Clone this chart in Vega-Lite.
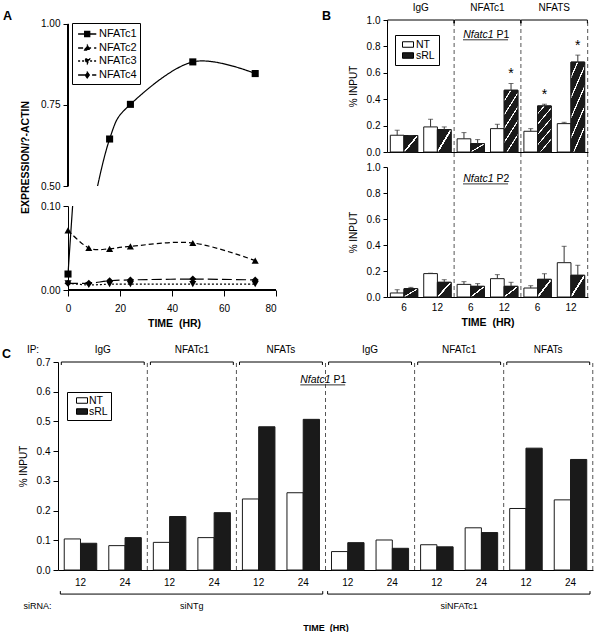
{
  "$schema": "https://vega.github.io/schema/vega-lite/v6.json",
  "padding": {"left": 2, "top": 3, "right": 10, "bottom": 2},
  "config": {
    "font": "Liberation Sans",
    "view": {"stroke": null},
    "axis": {"domainColor": "black", "tickColor": "black", "labelColor": "black", "titleColor": "black", "labelFontSize": 10, "titleFontSize": 10, "titleFontWeight": "normal", "grid": false, "tickSize": 4, "labelPadding": 3, "labelOverlap": false},
    "title": {"fontSize": 12.5, "fontWeight": "bold", "anchor": "start", "frame": "group", "color": "black"}
  },
  "datasets": {
    "a": [
      {"series": "NFATc1", "t": 0, "v": 0.019},
      {"series": "NFATc1", "t": 8, "v": 0.37},
      {"series": "NFATc1", "t": 16, "v": 0.645},
      {"series": "NFATc1", "t": 24, "v": 0.752},
      {"series": "NFATc1", "t": 48, "v": 0.883},
      {"series": "NFATc1", "t": 72, "v": 0.847},
      {"series": "NFATc2", "t": 0, "v": 0.071},
      {"series": "NFATc2", "t": 8, "v": 0.05},
      {"series": "NFATc2", "t": 16, "v": 0.049},
      {"series": "NFATc2", "t": 24, "v": 0.052},
      {"series": "NFATc2", "t": 48, "v": 0.056},
      {"series": "NFATc2", "t": 72, "v": 0.035},
      {"series": "NFATc3", "t": 0, "v": 0.008},
      {"series": "NFATc3", "t": 8, "v": 0.006},
      {"series": "NFATc3", "t": 16, "v": 0.007},
      {"series": "NFATc3", "t": 24, "v": 0.007},
      {"series": "NFATc3", "t": 48, "v": 0.007},
      {"series": "NFATc3", "t": 72, "v": 0.007},
      {"series": "NFATc4", "t": 0, "v": 0.008},
      {"series": "NFATc4", "t": 8, "v": 0.008},
      {"series": "NFATc4", "t": 16, "v": 0.011},
      {"series": "NFATc4", "t": 24, "v": 0.012},
      {"series": "NFATc4", "t": 48, "v": 0.013},
      {"series": "NFATc4", "t": 72, "v": 0.012}
    ],
    "b": [
      {"p": "P1", "cat": "IgG|6", "trt": "NT", "v": 0.127, "hi": 0.165, "sig": ""},
      {"p": "P1", "cat": "IgG|6", "trt": "sRL", "v": 0.125, "hi": 0.125, "sig": ""},
      {"p": "P1", "cat": "IgG|12", "trt": "NT", "v": 0.19, "hi": 0.248, "sig": ""},
      {"p": "P1", "cat": "IgG|12", "trt": "sRL", "v": 0.17, "hi": 0.19, "sig": ""},
      {"p": "P1", "cat": "NFATc1|6", "trt": "NT", "v": 0.1, "hi": 0.147, "sig": ""},
      {"p": "P1", "cat": "NFATc1|6", "trt": "sRL", "v": 0.063, "hi": 0.094, "sig": ""},
      {"p": "P1", "cat": "NFATc1|12", "trt": "NT", "v": 0.177, "hi": 0.21, "sig": ""},
      {"p": "P1", "cat": "NFATc1|12", "trt": "sRL", "v": 0.468, "hi": 0.519, "sig": "*"},
      {"p": "P1", "cat": "NFATS|6", "trt": "NT", "v": 0.157, "hi": 0.177, "sig": ""},
      {"p": "P1", "cat": "NFATS|6", "trt": "sRL", "v": 0.349, "hi": 0.362, "sig": "*"},
      {"p": "P1", "cat": "NFATS|12", "trt": "NT", "v": 0.215, "hi": 0.225, "sig": ""},
      {"p": "P1", "cat": "NFATS|12", "trt": "sRL", "v": 0.681, "hi": 0.734, "sig": "*"},
      {"p": "P2", "cat": "IgG|6", "trt": "NT", "v": 0.031, "hi": 0.056, "sig": ""},
      {"p": "P2", "cat": "IgG|6", "trt": "sRL", "v": 0.064, "hi": 0.074, "sig": ""},
      {"p": "P2", "cat": "IgG|12", "trt": "NT", "v": 0.18, "hi": 0.183, "sig": ""},
      {"p": "P2", "cat": "IgG|12", "trt": "sRL", "v": 0.113, "hi": 0.133, "sig": ""},
      {"p": "P2", "cat": "NFATc1|6", "trt": "NT", "v": 0.097, "hi": 0.118, "sig": ""},
      {"p": "P2", "cat": "NFATc1|6", "trt": "sRL", "v": 0.082, "hi": 0.103, "sig": ""},
      {"p": "P2", "cat": "NFATc1|12", "trt": "NT", "v": 0.141, "hi": 0.172, "sig": ""},
      {"p": "P2", "cat": "NFATc1|12", "trt": "sRL", "v": 0.082, "hi": 0.113, "sig": ""},
      {"p": "P2", "cat": "NFATS|6", "trt": "NT", "v": 0.069, "hi": 0.087, "sig": ""},
      {"p": "P2", "cat": "NFATS|6", "trt": "sRL", "v": 0.136, "hi": 0.179, "sig": ""},
      {"p": "P2", "cat": "NFATS|12", "trt": "NT", "v": 0.264, "hi": 0.39, "sig": ""},
      {"p": "P2", "cat": "NFATS|12", "trt": "sRL", "v": 0.167, "hi": 0.244, "sig": ""}
    ],
    "bg": [
      {"lab": "IgG", "c6": "IgG|6", "c12": "IgG|12"},
      {"lab": "NFATc1", "c6": "NFATc1|6", "c12": "NFATc1|12"},
      {"lab": "NFATS", "c6": "NFATS|6", "c12": "NFATS|12"}
    ],
    "c": [
      {"cat": "siNTg|IgG|12", "trt": "NT", "v": 0.1045},
      {"cat": "siNTg|IgG|12", "trt": "sRL", "v": 0.09},
      {"cat": "siNTg|IgG|24", "trt": "NT", "v": 0.082},
      {"cat": "siNTg|IgG|24", "trt": "sRL", "v": 0.109},
      {"cat": "siNTg|NFATc1|12", "trt": "NT", "v": 0.093},
      {"cat": "siNTg|NFATc1|12", "trt": "sRL", "v": 0.18},
      {"cat": "siNTg|NFATc1|24", "trt": "NT", "v": 0.109},
      {"cat": "siNTg|NFATc1|24", "trt": "sRL", "v": 0.193},
      {"cat": "siNTg|NFATs|12", "trt": "NT", "v": 0.239},
      {"cat": "siNTg|NFATs|12", "trt": "sRL", "v": 0.482},
      {"cat": "siNTg|NFATs|24", "trt": "NT", "v": 0.26},
      {"cat": "siNTg|NFATs|24", "trt": "sRL", "v": 0.507},
      {"cat": "siNFATc1|IgG|12", "trt": "NT", "v": 0.062},
      {"cat": "siNFATc1|IgG|12", "trt": "sRL", "v": 0.092},
      {"cat": "siNFATc1|IgG|24", "trt": "NT", "v": 0.101},
      {"cat": "siNFATc1|IgG|24", "trt": "sRL", "v": 0.073},
      {"cat": "siNFATc1|NFATc1|12", "trt": "NT", "v": 0.085},
      {"cat": "siNFATc1|NFATc1|12", "trt": "sRL", "v": 0.078},
      {"cat": "siNFATc1|NFATc1|24", "trt": "NT", "v": 0.142},
      {"cat": "siNFATc1|NFATc1|24", "trt": "sRL", "v": 0.126},
      {"cat": "siNFATc1|NFATs|12", "trt": "NT", "v": 0.207},
      {"cat": "siNFATc1|NFATs|12", "trt": "sRL", "v": 0.41},
      {"cat": "siNFATc1|NFATs|24", "trt": "NT", "v": 0.236},
      {"cat": "siNFATc1|NFATs|24", "trt": "sRL", "v": 0.372}
    ],
    "cg": [
      {"lab": "IgG", "c12": "siNTg|IgG|12", "c24": "siNTg|IgG|24"},
      {"lab": "NFATc1", "c12": "siNTg|NFATc1|12", "c24": "siNTg|NFATc1|24"},
      {"lab": "NFATs", "c12": "siNTg|NFATs|12", "c24": "siNTg|NFATs|24"},
      {"lab": "IgG", "c12": "siNFATc1|IgG|12", "c24": "siNFATc1|IgG|24"},
      {"lab": "NFATc1", "c12": "siNFATc1|NFATc1|12", "c24": "siNFATc1|NFATc1|24"},
      {"lab": "NFATs", "c12": "siNFATc1|NFATs|12", "c24": "siNFATc1|NFATs|24"}
    ],
    "cs": [
      {"lab": "siNTg", "first": "siNTg|IgG|12", "mid": "siNTg|NFATc1|12", "last": "siNTg|NFATs|24"},
      {"lab": "siNFATc1", "first": "siNFATc1|IgG|12", "mid": "siNFATc1|NFATc1|12", "last": "siNFATc1|NFATs|24"}
    ]
  },
  "resolve": {"scale": {"fill": "independent", "shape": "independent", "strokeDash": "independent", "xOffset": "independent"}, "legend": {"fill": "independent", "shape": "independent", "strokeDash": "independent"}},
  "spacing": 16,
  "vconcat": [
    {
      "spacing": 45,
      "resolve": {"scale": {"fill": "independent", "shape": "independent", "strokeDash": "independent", "xOffset": "independent"}, "legend": {"fill": "independent", "shape": "independent", "strokeDash": "independent"}},
      "hconcat": [
        {
          "spacing": 20,
          "bounds": "flush",
          "resolve": {"scale": {"shape": "independent", "strokeDash": "independent"}, "legend": {"shape": "independent", "strokeDash": "independent"}},
          "vconcat": [
            {
              "width": 218,
              "height": 166,
              "title": {"text": "A", "dx": -55, "offset": -4},
              "data": {"name": "a"},
              "layer": [
                {
                  "mark": {"type": "line", "interpolate": "cardinal", "clip": true, "color": "black", "strokeWidth": 1.2},
                  "encoding": {
                    "x": {"field": "t", "type": "quantitative", "scale": {"domain": [-3.85, 80], "nice": false, "zero": false}, "axis": null},
                    "y": {"field": "v", "type": "quantitative", "scale": {"domain": [0.5, 1.0123], "nice": false, "zero": false}, "axis": {"values": [0.5, 0.75, 1.0], "tickCount": 20, "format": ".2f", "domain": false, "offset": -10, "tickSize": 5, "labelOverlap": false, "title": "EXPRESSION/?-ACTIN", "titleFontWeight": "bold", "titleFontSize": 10.5, "titleY": 137, "titlePadding": 10}},
                    "strokeDash": {"field": "series", "type": "nominal", "scale": {"domain": ["NFATc1", "NFATc2", "NFATc3", "NFATc4"], "range": [[1, 0], [5, 3], [2, 2], [10, 4]]},
                      "legend": {"orient": "none", "legendX": 14, "legendY": 3, "title": null, "strokeColor": "black", "fillColor": "white", "padding": 3, "symbolSize": 196, "symbolStrokeWidth": 1.3, "symbolStrokeColor": "black", "labelFontSize": 11, "labelOffset": 8, "rowPadding": 0, "labelColor": "black",
                        "encode": {"symbols": {"update": {
                          "shape": {"signal": "datum.value == 'NFATc1' ? 'M-0.7,0H1.9M0.24,-0.36H0.96V0.36H0.24Z' : datum.value == 'NFATc2' ? 'M-0.7,0H1.9M0.6,-0.4L0.96,0.3H0.24Z' : datum.value == 'NFATc3' ? 'M-0.7,0H1.9M0.6,0.4L0.96,-0.3H0.24Z' : 'M-0.7,0H1.9M0.6,-0.42L0.9,0L0.6,0.42L0.3,0Z'"},
                          "fill": {"value": "black"},
                          "stroke": {"value": "black"},
                          "size": {"value": 196}
                        }}}}}
                  }
                },
                {
                  "transform": [{"filter": "datum.series == 'NFATc1'"}],
                  "mark": {"type": "point", "shape": "square", "filled": true, "clip": true, "color": "black", "size": 50, "opacity": 1},
                  "encoding": {"x": {"field": "t", "type": "quantitative"}, "y": {"field": "v", "type": "quantitative"}}
                },
                {
                  "transform": [{"filter": "datum.series == 'NFATc2'"}],
                  "mark": {"type": "point", "shape": "triangle-up", "filled": true, "clip": true, "color": "black", "size": 50, "opacity": 1},
                  "encoding": {"x": {"field": "t", "type": "quantitative"}, "y": {"field": "v", "type": "quantitative"}}
                },
                {
                  "transform": [{"filter": "datum.series == 'NFATc3'"}],
                  "mark": {"type": "point", "shape": "triangle-down", "filled": true, "clip": true, "color": "black", "size": 50, "opacity": 1},
                  "encoding": {"x": {"field": "t", "type": "quantitative"}, "y": {"field": "v", "type": "quantitative"}}
                },
                {
                  "transform": [{"filter": "datum.series == 'NFATc4'"}],
                  "mark": {"type": "point", "shape": "diamond", "filled": true, "clip": true, "color": "black", "size": 50, "opacity": 1},
                  "encoding": {"x": {"field": "t", "type": "quantitative"}, "y": {"field": "v", "type": "quantitative"}}
                },
                {
                  "mark": {"type": "rule", "color": "black"},
                  "encoding": {"x": {"datum": 0}, "y": {"datum": 0.5}, "y2": {"datum": 1.0}}
                }
              ]
            },
            {
              "width": 218,
              "height": 84,
              "data": {"name": "a"},
              "layer": [
                {
                  "mark": {"type": "line", "interpolate": "cardinal", "clip": true, "color": "black", "strokeWidth": 1.2},
                  "encoding": {
                    "x": {"field": "t", "type": "quantitative", "scale": {"domain": [-3.85, 80], "nice": false, "zero": false}, "axis": {"values": [0, 20, 40, 60, 80], "tickCount": 20, "domain": false, "tickSize": 6, "labelPadding": 7, "labelOverlap": false, "title": "TIME\u00a0 (HR)", "titleFontWeight": "bold", "titleFontSize": 10.5, "titlePadding": 5, "titleX": 116}},
                    "y": {"field": "v", "type": "quantitative", "scale": {"domain": [0, 0.1], "nice": false, "zero": false}, "axis": {"values": [0, 0.1], "tickCount": 20, "format": ".2f", "offset": -10, "tickSize": 5, "labelOverlap": false, "title": null}},
                    "strokeDash": {"field": "series", "type": "nominal", "scale": {"domain": ["NFATc1", "NFATc2", "NFATc3", "NFATc4"], "range": [[1, 0], [5, 3], [2, 2], [10, 4]]}, "legend": null}
                  }
                },
                {
                  "transform": [{"filter": "datum.series == 'NFATc1'"}],
                  "mark": {"type": "point", "shape": "square", "filled": true, "clip": true, "color": "black", "size": 50, "opacity": 1},
                  "encoding": {"x": {"field": "t", "type": "quantitative"}, "y": {"field": "v", "type": "quantitative"}}
                },
                {
                  "transform": [{"filter": "datum.series == 'NFATc2'"}],
                  "mark": {"type": "point", "shape": "triangle-up", "filled": true, "clip": true, "color": "black", "size": 50, "opacity": 1},
                  "encoding": {"x": {"field": "t", "type": "quantitative"}, "y": {"field": "v", "type": "quantitative"}}
                },
                {
                  "transform": [{"filter": "datum.series == 'NFATc3'"}],
                  "mark": {"type": "point", "shape": "triangle-down", "filled": true, "clip": true, "color": "black", "size": 50, "opacity": 1},
                  "encoding": {"x": {"field": "t", "type": "quantitative"}, "y": {"field": "v", "type": "quantitative"}}
                },
                {
                  "transform": [{"filter": "datum.series == 'NFATc4'"}],
                  "mark": {"type": "point", "shape": "diamond", "filled": true, "clip": true, "color": "black", "size": 50, "opacity": 1},
                  "encoding": {"x": {"field": "t", "type": "quantitative"}, "y": {"field": "v", "type": "quantitative"}}
                },
                {
                  "mark": {"type": "rule", "color": "black"},
                  "encoding": {"x": {"datum": 0}, "x2": {"datum": 80}, "y": {"datum": 0}}
                }
              ]
            }
          ]
        },
        {
          "spacing": 15,
          "bounds": "flush",
          "resolve": {"scale": {"fill": "independent", "xOffset": "independent"}, "legend": {"fill": "independent"}},
          "vconcat": [
            {
              "width": 201,
              "height": 132,
              "title": {"text": "B", "dx": -65, "offset": -19.5},
              "layer": [
                {
                  "data": {"name": "b"},
                  "transform": [{"filter": "datum.p == 'P1'"}],
                  "mark": {"type": "bar", "stroke": "#1a1a1a", "strokeWidth": 1},
                  "encoding": {
                    "x": {"field": "cat", "type": "nominal", "scale": {"domain": ["IgG|6", "IgG|12", "NFATc1|6", "NFATc1|12", "NFATS|6", "NFATS|12"], "paddingInner": 0.18, "paddingOuter": 0.1}, "axis": {"labels": false, "ticks": false, "title": null}},
                    "xOffset": {"field": "trt", "type": "nominal", "scale": {"domain": ["NT", "sRL"], "paddingInner": 0, "paddingOuter": 0}},
                    "y": {"field": "v", "type": "quantitative", "scale": {"domain": [0, 1], "nice": false}, "axis": {"values": [0, 0.2, 0.4, 0.6, 0.8, 1.0], "tickCount": 20, "format": ".1f", "labelOverlap": false, "title": "% INPUT", "titlePadding": 8}},
                    "fill": {"field": "trt", "type": "nominal", "scale": {"domain": ["NT", "sRL"], "range": ["white", "#1a1a1a"]},
                      "legend": {"orient": "none", "legendX": 8, "legendY": 15, "title": null, "strokeColor": "black", "fillColor": "white", "padding": 4, "symbolType": "M-0.4,-0.55H1.8V0.55H-0.4Z", "symbolSize": 100, "symbolStrokeColor": "black", "symbolStrokeWidth": 1, "labelFontSize": 10.5, "labelOffset": 6, "rowPadding": 0, "labelColor": "black",
                        "encode": {"symbols": {"update": {
                          "fill": [
                            {"test": "datum.value == 'sRL'", "value": {"gradient": "linear", "x1": 0, "y1": 0, "x2": 1, "y2": 1, "stops": [{"offset": 0, "color": "#1a1a1a"}, {"offset": 0.44, "color": "#1a1a1a"}, {"offset": 0.45, "color": "white"}, {"offset": 0.55, "color": "white"}, {"offset": 0.56, "color": "#1a1a1a"}, {"offset": 1, "color": "#1a1a1a"}]}},
                            {"value": "white"}
                          ],
                          "stroke": {"value": "black"},
                          "strokeWidth": {"value": 1}
                        }}}}}
                  }
                },
                {
                  "data": {"name": "b"},
                  "transform": [{"filter": "datum.p == 'P1' && datum.trt == 'sRL' && datum.v < 0.3"}],
                  "mark": {"type": "bar", "stroke": "#1a1a1a", "strokeWidth": 1, "fill": {"gradient": "linear", "x1": 0, "y1": 0, "x2": 1, "y2": 1, "stops": [{"offset": 0, "color": "#1a1a1a"}, {"offset": 0.46, "color": "#1a1a1a"}, {"offset": 0.465, "color": "white"}, {"offset": 0.535, "color": "white"}, {"offset": 0.54, "color": "#1a1a1a"}, {"offset": 1, "color": "#1a1a1a"}]}},
                  "encoding": {
                    "x": {"field": "cat", "type": "nominal"},
                    "xOffset": {"field": "trt", "type": "nominal"},
                    "y": {"field": "v", "type": "quantitative"}
                  }
                },
                {
                  "data": {"name": "b"},
                  "transform": [{"filter": "datum.p == 'P1' && datum.trt == 'sRL' && datum.v >= 0.3"}],
                  "mark": {"type": "bar", "stroke": "#1a1a1a", "strokeWidth": 1, "fill": {"gradient": "linear", "x1": 0, "y1": 0, "x2": 0.35, "y2": 1, "stops": [{"offset": 0, "color": "#1a1a1a"}, {"offset": 0.135, "color": "#1a1a1a"}, {"offset": 0.14, "color": "white"}, {"offset": 0.165, "color": "white"}, {"offset": 0.17, "color": "#1a1a1a"}, {"offset": 0.335, "color": "#1a1a1a"}, {"offset": 0.34, "color": "white"}, {"offset": 0.365, "color": "white"}, {"offset": 0.37, "color": "#1a1a1a"}, {"offset": 0.535, "color": "#1a1a1a"}, {"offset": 0.54, "color": "white"}, {"offset": 0.565, "color": "white"}, {"offset": 0.57, "color": "#1a1a1a"}, {"offset": 0.735, "color": "#1a1a1a"}, {"offset": 0.74, "color": "white"}, {"offset": 0.765, "color": "white"}, {"offset": 0.77, "color": "#1a1a1a"}, {"offset": 0.935, "color": "#1a1a1a"}, {"offset": 0.94, "color": "white"}, {"offset": 0.965, "color": "white"}, {"offset": 0.97, "color": "#1a1a1a"}, {"offset": 1, "color": "#1a1a1a"}]}},
                  "encoding": {
                    "x": {"field": "cat", "type": "nominal"},
                    "xOffset": {"field": "trt", "type": "nominal"},
                    "y": {"field": "v", "type": "quantitative"}
                  }
                },
                {
                  "data": {"name": "b"},
                  "transform": [{"filter": "datum.p == 'P1'"}],
                  "mark": {"type": "rule", "color": "#333"},
                  "encoding": {
                    "x": {"field": "cat", "type": "nominal"},
                    "xOffset": {"field": "trt", "type": "nominal"},
                    "y": {"field": "v", "type": "quantitative"},
                    "y2": {"field": "hi"}
                  }
                },
                {
                  "data": {"name": "b"},
                  "transform": [{"filter": "datum.p == 'P1'"}],
                  "mark": {"type": "tick", "orient": "horizontal", "color": "#333", "size": 5, "thickness": 1},
                  "encoding": {
                    "x": {"field": "cat", "type": "nominal"},
                    "xOffset": {"field": "trt", "type": "nominal"},
                    "y": {"field": "hi", "type": "quantitative"}
                  }
                },
                {
                  "data": {"name": "b"},
                  "transform": [{"filter": "datum.p == 'P1' && datum.sig != ''"}],
                  "mark": {"type": "text", "fontSize": 14, "baseline": "alphabetic", "dy": -5},
                  "encoding": {
                    "x": {"field": "cat", "type": "nominal"},
                    "xOffset": {"field": "trt", "type": "nominal"},
                    "y": {"field": "hi", "type": "quantitative"},
                    "text": {"field": "sig"}
                  }
                },
                {
                  "data": {"name": "bg"},
                  "mark": {"type": "rule", "color": "#555", "strokeDash": [4, 3]},
                  "encoding": {"x": {"field": "c12", "type": "nominal", "bandPosition": 1.11}, "y": {"datum": 0}, "y2": {"datum": 1}}
                },
                {
                  "data": {"name": "bg"},
                  "mark": {"type": "text", "fontSize": 10, "baseline": "middle"},
                  "encoding": {"x": {"field": "c6", "type": "nominal", "bandPosition": 1.11}, "y": {"datum": 1.09}, "text": {"field": "lab"}}
                },
                {
                  "data": {"name": "bg"},
                  "mark": {"type": "rule", "color": "black"},
                  "encoding": {"x": {"field": "c6", "type": "nominal", "bandPosition": -0.1}, "x2": {"field": "c12", "bandPosition": 1.1}, "y": {"datum": 1}}
                },
                {
                  "data": {"name": "bg"},
                  "mark": {"type": "rule", "color": "black"},
                  "encoding": {"x": {"field": "c6", "type": "nominal", "bandPosition": -0.1}, "y": {"datum": 1}, "y2": {"datum": 0.975}}
                },
                {
                  "data": {"name": "bg"},
                  "mark": {"type": "rule", "color": "black"},
                  "encoding": {"x": {"field": "c12", "type": "nominal", "bandPosition": 1.1}, "y": {"datum": 1}, "y2": {"datum": 0.975}}
                },
                {
                  "data": {"name": "bg"},
                  "transform": [{"filter": "datum.lab == 'NFATc1'"}],
                  "mark": {"type": "text", "text": "Nfatc1", "fontStyle": "italic", "align": "right", "dx": 6, "fontSize": 10.5, "baseline": "middle"},
                  "encoding": {"x": {"field": "c6", "type": "nominal", "bandPosition": 1.11}, "y": {"datum": 0.89}}
                },
                {
                  "data": {"name": "bg"},
                  "transform": [{"filter": "datum.lab == 'NFATc1'"}],
                  "mark": {"type": "text", "text": "P1", "align": "left", "dx": 9, "fontSize": 10.5, "baseline": "middle"},
                  "encoding": {"x": {"field": "c6", "type": "nominal", "bandPosition": 1.11}, "y": {"datum": 0.89}}
                },
                {
                  "data": {"name": "bg"},
                  "transform": [{"filter": "datum.lab == 'NFATc1'"}],
                  "mark": {"type": "rule", "color": "#333"},
                  "encoding": {"x": {"field": "c6", "type": "nominal", "bandPosition": 0.215}, "x2": {"field": "c6", "bandPosition": 1.86}, "y": {"datum": 0.85}}
                }
              ]
            },
            {
              "width": 201,
              "height": 130,
              "layer": [
                {
                  "data": {"name": "b"},
                  "transform": [{"filter": "datum.p == 'P2'"}],
                  "mark": {"type": "bar", "stroke": "#1a1a1a", "strokeWidth": 1},
                  "encoding": {
                    "x": {"field": "cat", "type": "nominal", "scale": {"domain": ["IgG|6", "IgG|12", "NFATc1|6", "NFATc1|12", "NFATS|6", "NFATS|12"], "paddingInner": 0.18, "paddingOuter": 0.1}, "axis": {"labelExpr": "split(datum.value, '|')[1]", "labelAngle": 0, "ticks": false, "labelPadding": 5, "labelOverlap": false, "title": "TIME\u00a0 (HR)", "titleFontWeight": "bold", "titleFontSize": 10.5, "titlePadding": 5}},
                    "xOffset": {"field": "trt", "type": "nominal", "scale": {"domain": ["NT", "sRL"], "paddingInner": 0, "paddingOuter": 0}},
                    "y": {"field": "v", "type": "quantitative", "scale": {"domain": [0, 1], "nice": false}, "axis": {"values": [0, 0.2, 0.4, 0.6, 0.8, 1.0], "tickCount": 20, "format": ".1f", "labelOverlap": false, "title": "% INPUT", "titlePadding": 8}},
                    "fill": {"field": "trt", "type": "nominal", "scale": {"domain": ["NT", "sRL"], "range": ["white", "#1a1a1a"]}, "legend": null}
                  }
                },
                {
                  "data": {"name": "b"},
                  "transform": [{"filter": "datum.p == 'P2' && datum.trt == 'sRL'"}],
                  "mark": {"type": "bar", "stroke": "#1a1a1a", "strokeWidth": 1, "fill": {"gradient": "linear", "x1": 0, "y1": 0, "x2": 1, "y2": 1, "stops": [{"offset": 0, "color": "#1a1a1a"}, {"offset": 0.46, "color": "#1a1a1a"}, {"offset": 0.465, "color": "white"}, {"offset": 0.535, "color": "white"}, {"offset": 0.54, "color": "#1a1a1a"}, {"offset": 1, "color": "#1a1a1a"}]}},
                  "encoding": {
                    "x": {"field": "cat", "type": "nominal"},
                    "xOffset": {"field": "trt", "type": "nominal"},
                    "y": {"field": "v", "type": "quantitative"}
                  }
                },
                {
                  "data": {"name": "b"},
                  "transform": [{"filter": "datum.p == 'P2'"}],
                  "mark": {"type": "rule", "color": "#333"},
                  "encoding": {
                    "x": {"field": "cat", "type": "nominal"},
                    "xOffset": {"field": "trt", "type": "nominal"},
                    "y": {"field": "v", "type": "quantitative"},
                    "y2": {"field": "hi"}
                  }
                },
                {
                  "data": {"name": "b"},
                  "transform": [{"filter": "datum.p == 'P2'"}],
                  "mark": {"type": "tick", "orient": "horizontal", "color": "#333", "size": 5, "thickness": 1},
                  "encoding": {
                    "x": {"field": "cat", "type": "nominal"},
                    "xOffset": {"field": "trt", "type": "nominal"},
                    "y": {"field": "hi", "type": "quantitative"}
                  }
                },
                {
                  "data": {"name": "bg"},
                  "mark": {"type": "rule", "color": "#555", "strokeDash": [4, 3]},
                  "encoding": {"x": {"field": "c12", "type": "nominal", "bandPosition": 1.11}, "y": {"datum": 0}, "y2": {"datum": 1.12}}
                },
                {
                  "data": {"name": "bg"},
                  "transform": [{"filter": "datum.lab == 'NFATc1'"}],
                  "mark": {"type": "text", "text": "Nfatc1", "fontStyle": "italic", "align": "right", "dx": 6, "fontSize": 10.5, "baseline": "middle"},
                  "encoding": {"x": {"field": "c6", "type": "nominal", "bandPosition": 1.11}, "y": {"datum": 0.908}}
                },
                {
                  "data": {"name": "bg"},
                  "transform": [{"filter": "datum.lab == 'NFATc1'"}],
                  "mark": {"type": "text", "text": "P2", "align": "left", "dx": 9, "fontSize": 10.5, "baseline": "middle"},
                  "encoding": {"x": {"field": "c6", "type": "nominal", "bandPosition": 1.11}, "y": {"datum": 0.908}}
                },
                {
                  "data": {"name": "bg"},
                  "transform": [{"filter": "datum.lab == 'NFATc1'"}],
                  "mark": {"type": "rule", "color": "#333"},
                  "encoding": {"x": {"field": "c6", "type": "nominal", "bandPosition": 0.215}, "x2": {"field": "c6", "bandPosition": 1.86}, "y": {"datum": 0.87}}
                }
              ]
            }
          ]
        }
      ]
    },
    {
      "width": 535,
      "height": 208,
      "title": {"text": "C", "dx": -56, "offset": -15.5},
      "layer": [
        {
          "data": {"name": "c"},
          "mark": {"type": "bar", "stroke": "#1a1a1a", "strokeWidth": 1},
          "encoding": {
            "x": {"field": "cat", "type": "nominal", "scale": {"domain": ["siNTg|IgG|12", "siNTg|IgG|24", "siNTg|NFATc1|12", "siNTg|NFATc1|24", "siNTg|NFATs|12", "siNTg|NFATs|24", "siNFATc1|IgG|12", "siNFATc1|IgG|24", "siNFATc1|NFATc1|12", "siNFATc1|NFATc1|24", "siNFATc1|NFATs|12", "siNFATc1|NFATs|24"], "paddingInner": 0.27, "paddingOuter": 0.14}, "axis": {"labelExpr": "split(datum.value, '|')[2]", "labelAngle": 0, "ticks": false, "labelPadding": 7, "labelOverlap": false, "title": "TIME\u00a0 (HR)", "titleFontWeight": "bold", "titleFontSize": 9, "titlePadding": 36}},
            "xOffset": {"field": "trt", "type": "nominal", "scale": {"domain": ["NT", "sRL"], "paddingInner": 0, "paddingOuter": 0}},
            "y": {"field": "v", "type": "quantitative", "scale": {"domain": [0, 0.7], "nice": false}, "axis": {"values": [0, 0.1, 0.2, 0.3, 0.4, 0.5, 0.6, 0.7], "tickCount": 20, "format": ".1f", "tickSize": 5, "labelOverlap": false, "title": "% INPUT", "titlePadding": 8}},
            "fill": {"field": "trt", "type": "nominal", "scale": {"domain": ["NT", "sRL"], "range": ["white", "#1a1a1a"]},
              "legend": {"orient": "none", "legendX": 9, "legendY": 30, "title": null, "strokeColor": "black", "fillColor": "white", "padding": 3, "symbolType": "M0.2,-0.55H2.4V0.55H0.2Z", "symbolSize": 100, "symbolStrokeColor": "black", "symbolStrokeWidth": 1, "labelFontSize": 10.5, "labelOffset": 8, "rowPadding": 0, "labelColor": "black"}}
          }
        },
        {
          "data": {"name": "cg"},
          "mark": {"type": "rule", "color": "#555", "strokeDash": [4, 3]},
          "encoding": {"x": {"field": "c24", "type": "nominal", "bandPosition": 1.185}, "y": {"datum": 0}, "y2": {"datum": 0.7}}
        },
        {
          "data": {"name": "cg"},
          "mark": {"type": "text", "fontSize": 10, "baseline": "middle"},
          "encoding": {"x": {"field": "c12", "type": "nominal", "bandPosition": 1.185}, "y": {"datum": 0.74}, "text": {"field": "lab"}}
        },
        {
          "data": {"name": "cg"},
          "mark": {"type": "rule", "color": "black"},
          "encoding": {"x": {"field": "c12", "type": "nominal", "bandPosition": -0.09}, "x2": {"field": "c24", "bandPosition": 1.09}, "y": {"datum": 0.7}}
        },
        {
          "data": {"name": "cg"},
          "mark": {"type": "rule", "color": "black"},
          "encoding": {"x": {"field": "c12", "type": "nominal", "bandPosition": -0.09}, "y": {"datum": 0.7}, "y2": {"datum": 0.69}}
        },
        {
          "data": {"name": "cg"},
          "mark": {"type": "rule", "color": "black"},
          "encoding": {"x": {"field": "c24", "type": "nominal", "bandPosition": 1.09}, "y": {"datum": 0.7}, "y2": {"datum": 0.69}}
        },
        {
          "data": {"name": "cs"},
          "transform": [{"filter": "datum.lab == 'siNTg'"}],
          "mark": {"type": "text", "text": "IP:", "fontSize": 10, "baseline": "middle"},
          "encoding": {"x": {"field": "first", "type": "nominal", "bandPosition": -0.96}, "y": {"datum": 0.74}}
        },
        {
          "data": {"name": "cs"},
          "mark": {"type": "rule", "color": "black"},
          "encoding": {"x": {"field": "first", "type": "nominal", "bandPosition": -0.12}, "x2": {"field": "last", "bandPosition": 1.1}, "y": {"datum": -0.081}}
        },
        {
          "data": {"name": "cs"},
          "mark": {"type": "rule", "color": "black"},
          "encoding": {"x": {"field": "first", "type": "nominal", "bandPosition": -0.12}, "y": {"datum": -0.081}, "y2": {"datum": -0.071}}
        },
        {
          "data": {"name": "cs"},
          "mark": {"type": "rule", "color": "black"},
          "encoding": {"x": {"field": "last", "type": "nominal", "bandPosition": 1.1}, "y": {"datum": -0.081}, "y2": {"datum": -0.071}}
        },
        {
          "data": {"name": "cs"},
          "mark": {"type": "text", "fontSize": 9, "baseline": "middle"},
          "encoding": {"x": {"field": "mid", "type": "nominal", "bandPosition": 1.185}, "y": {"datum": -0.12}, "text": {"field": "lab"}}
        },
        {
          "data": {"name": "cs"},
          "transform": [{"filter": "datum.lab == 'siNTg'"}],
          "mark": {"type": "text", "text": "siRNA:", "fontSize": 9, "baseline": "middle"},
          "encoding": {"x": {"field": "first", "type": "nominal", "bandPosition": -0.82}, "y": {"datum": -0.12}}
        },
        {
          "data": {"name": "cs"},
          "transform": [{"filter": "datum.lab == 'siNTg'"}],
          "mark": {"type": "text", "text": "Nfatc1", "fontStyle": "italic", "align": "right", "dx": 5, "fontSize": 10.5, "baseline": "middle"},
          "encoding": {"x": {"field": "last", "type": "nominal", "bandPosition": 1.185}, "y": {"datum": 0.639}}
        },
        {
          "data": {"name": "cs"},
          "transform": [{"filter": "datum.lab == 'siNTg'"}],
          "mark": {"type": "text", "text": "P1", "align": "left", "dx": 8, "fontSize": 10.5, "baseline": "middle"},
          "encoding": {"x": {"field": "last", "type": "nominal", "bandPosition": 1.185}, "y": {"datum": 0.639}}
        },
        {
          "data": {"name": "cs"},
          "transform": [{"filter": "datum.lab == 'siNTg'"}],
          "mark": {"type": "rule", "color": "#333"},
          "encoding": {"x": {"field": "last", "type": "nominal", "bandPosition": 0.41}, "x2": {"field": "last", "bandPosition": 1.79}, "y": {"datum": 0.623}}
        }
      ]
    }
  ]
}
